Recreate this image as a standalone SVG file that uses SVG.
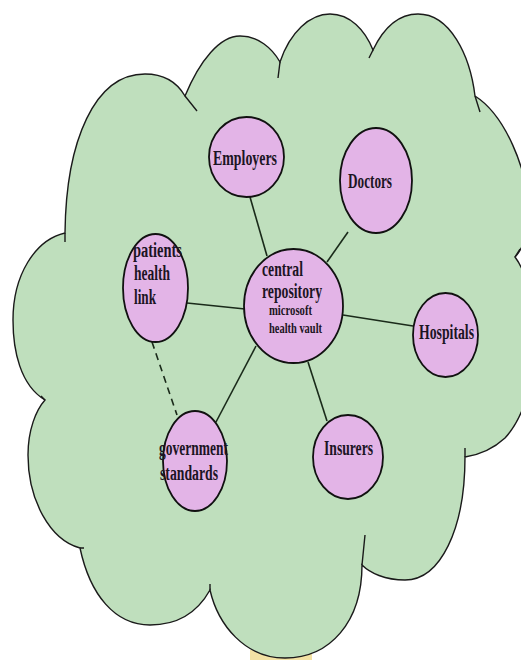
<svg xmlns="http://www.w3.org/2000/svg" width="521" height="660" viewBox="0 0 521 660">
<defs>
<style>
.cloud{fill:#bfdfbd;stroke:#1a1a1a;stroke-width:1.4;}
.tail{fill:none;stroke:#1a1a1a;stroke-width:1.4;}
.edge{stroke:#1a2a1a;stroke-width:1.6;fill:none;}
.dash{stroke-dasharray:7,5;}
.node{fill:#e3b4e7;stroke:#111;stroke-width:1.8;}
.t{font-family:"Liberation Serif","Times New Roman",serif;font-weight:bold;font-size:20px;fill:#1c1424;}
.s{font-size:14.5px;}
</style>
</defs>
<rect x="250" y="650" width="62" height="10" fill="#f3e2a4"/>
<g id="cloud">
<path class="cloud" d="M65,233 C66,140 95,74 145,74 C165,74 178,84 185,96 C200,60 220,36 240,36 C258,36 272,48 280,62 C290,32 310,14 330,14 C350,14 365,30 373,50 C385,25 400,14 418,14 C450,14 470,55 475,96 C505,115 528,170 528,210 C528,235 522,250 515,257 C540,290 545,395 505,438 C492,450 478,455 465,457 C465,530 440,580 405,580 C385,580 370,573 362,565 C362,622 330,658 285,658 C245,658 218,625 210,590 C196,615 175,625 150,625 C115,625 90,595 80,548 C50,540 28,500 28,455 C28,430 36,410 45,400 C20,385 13,350 13,320 C13,275 35,240 65,233 Z"/>
<path class="tail" d="M185,96 L197,111 M280,62 L278,78 M373,50 L369,58 M475,96 L480,112 M515,257 L520,249 M465,457 L465,448 M362,565 L365,535 M210,590 L210,584 M80,548 L84,548 M45,400 L41,396 M65,233 L65,242"/>
</g>
<g id="connectors">
<line class="edge" x1="250" y1="197" x2="267" y2="256"/>
<line class="edge" x1="348" y1="232" x2="327" y2="262"/>
<line class="edge" x1="187" y1="303" x2="245" y2="309"/>
<line class="edge" x1="343" y1="315" x2="413" y2="326"/>
<line class="edge" x1="256" y1="346" x2="216" y2="422"/>
<line class="edge" x1="308" y1="362" x2="327" y2="421"/>
<line class="edge dash" x1="152" y1="342" x2="177" y2="415"/>
</g>
<g id="employers">
<ellipse class="node" cx="246.5" cy="157" rx="37.5" ry="40"/>
<text class="t" x="213" y="165" textLength="64" lengthAdjust="spacingAndGlyphs">Employers</text>
</g>
<g id="doctors">
<ellipse class="node" cx="376" cy="180.5" rx="36" ry="52.5"/>
<text class="t" x="348" y="188" textLength="44" lengthAdjust="spacingAndGlyphs">Doctors</text>
</g>
<g id="patients">
<ellipse class="node" cx="155.5" cy="288" rx="32.5" ry="54"/>
<text class="t" x="133" y="257" textLength="49" lengthAdjust="spacingAndGlyphs">patients</text>
<text class="t" x="134" y="280" textLength="36" lengthAdjust="spacingAndGlyphs">health</text>
<text class="t" x="134" y="304" textLength="22" lengthAdjust="spacingAndGlyphs">link</text>
</g>
<g id="central">
<ellipse class="node" cx="293.5" cy="306" rx="49.5" ry="57"/>
<text class="t" x="262" y="276" textLength="41" lengthAdjust="spacingAndGlyphs">central</text>
<text class="t" x="262" y="298" textLength="60" lengthAdjust="spacingAndGlyphs">repository</text>
<text class="t s" x="269" y="315" textLength="43" lengthAdjust="spacingAndGlyphs">microsoft</text>
<text class="t s" x="269" y="333" textLength="53" lengthAdjust="spacingAndGlyphs">health vault</text>
</g>
<g id="hospitals">
<ellipse class="node" cx="445.5" cy="335" rx="32.5" ry="42"/>
<text class="t" x="419" y="339" textLength="55" lengthAdjust="spacingAndGlyphs">Hospitals</text>
</g>
<g id="government">
<ellipse class="node" cx="195" cy="461" rx="32" ry="50"/>
<text class="t" x="159" y="455" textLength="69" lengthAdjust="spacingAndGlyphs">government</text>
<text class="t" x="160" y="480" textLength="58" lengthAdjust="spacingAndGlyphs">standards</text>
</g>
<g id="insurers">
<ellipse class="node" cx="348" cy="457" rx="35" ry="42"/>
<text class="t" x="324" y="455" textLength="49" lengthAdjust="spacingAndGlyphs">Insurers</text>
</g>
</svg>
